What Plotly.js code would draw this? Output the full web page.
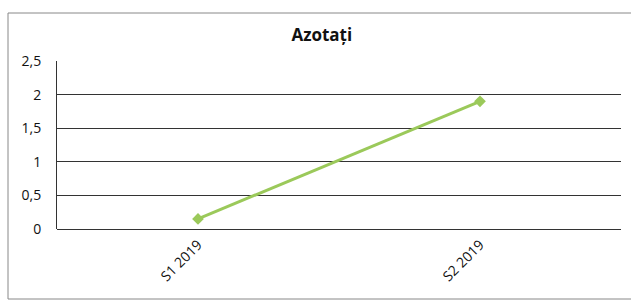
<!DOCTYPE html>
<html>
<head>
<meta charset="utf-8">
<script src="https://cdn.plot.ly/plotly-3.0.1.min.js"></script>
<style>html,body{margin:0;padding:0;background:#fff;}#chart{width:631px;height:304px;}</style>
</head>
<body>
<div id="chart"></div>
<script>
const categories = ["S1 2019", "S2 2019"];
const values = [0.15, 1.9];
const yTicks = [0, 0.5, 1, 1.5, 2, 2.5];
const yTickLabels = ["0", "0,5", "1", "1,5", "2", "2,5"];
const chartTitle = "Azotați";

const trace = {
  x: categories,
  y: values,
  type: "scatter",
  mode: "lines+markers",
  line: {color: "#9BC95A", width: 3},
  marker: {symbol: "diamond", size: 9, color: "#9BC95A"},
  hoverinfo: "skip"
};

const layout = {
  width: 631, height: 304,
  margin: {l: 57, r: 10, t: 61, b: 75},
  paper_bgcolor: "#fff", plot_bgcolor: "#fff",
  showlegend: false,
  font: {family: "Open Sans, Liberation Sans, sans-serif", color: "#111", size: 14},
  title: {text: "<b>" + chartTitle + "</b>", x: 0.51, xanchor: "center", y: 0.885, yanchor: "middle",
          font: {size: 17, color: "#111", family: "Open Sans, Liberation Sans, sans-serif"}},
  xaxis: {
    type: "category",
    range: [-0.5, 1.5],
    tickangle: -45,
    showgrid: false,
    zeroline: false,
    showline: false,
    ticks: "",
    ticklabelstandoff: 4,
    tickfont: {size: 14, color: "#111"},
    fixedrange: true
  },
  yaxis: {
    range: [0, 2.5],
    tickvals: yTicks,
    ticktext: yTickLabels,
    showgrid: true,
    gridcolor: "#333",
    gridwidth: 1,
    zeroline: true,
    zerolinecolor: "#333",
    zerolinewidth: 1,
    showline: true,
    linecolor: "#333",
    linewidth: 1,
    ticks: "",
    ticklabelstandoff: 12,
    tickfont: {size: 14, color: "#111"},
    fixedrange: true
  },
  shapes: [{
    type: "rect", xref: "paper", yref: "paper",
    x0: -49 / 564, x1: 1.03, y0: -70 / 168, y1: 1 + 48 / 168,
    line: {color: "#888", width: 1}, fillcolor: "rgba(0,0,0,0)", layer: "below"
  }]
};

Plotly.newPlot("chart", [trace], layout, {displayModeBar: false, staticPlot: true});
</script>
</body>
</html>
